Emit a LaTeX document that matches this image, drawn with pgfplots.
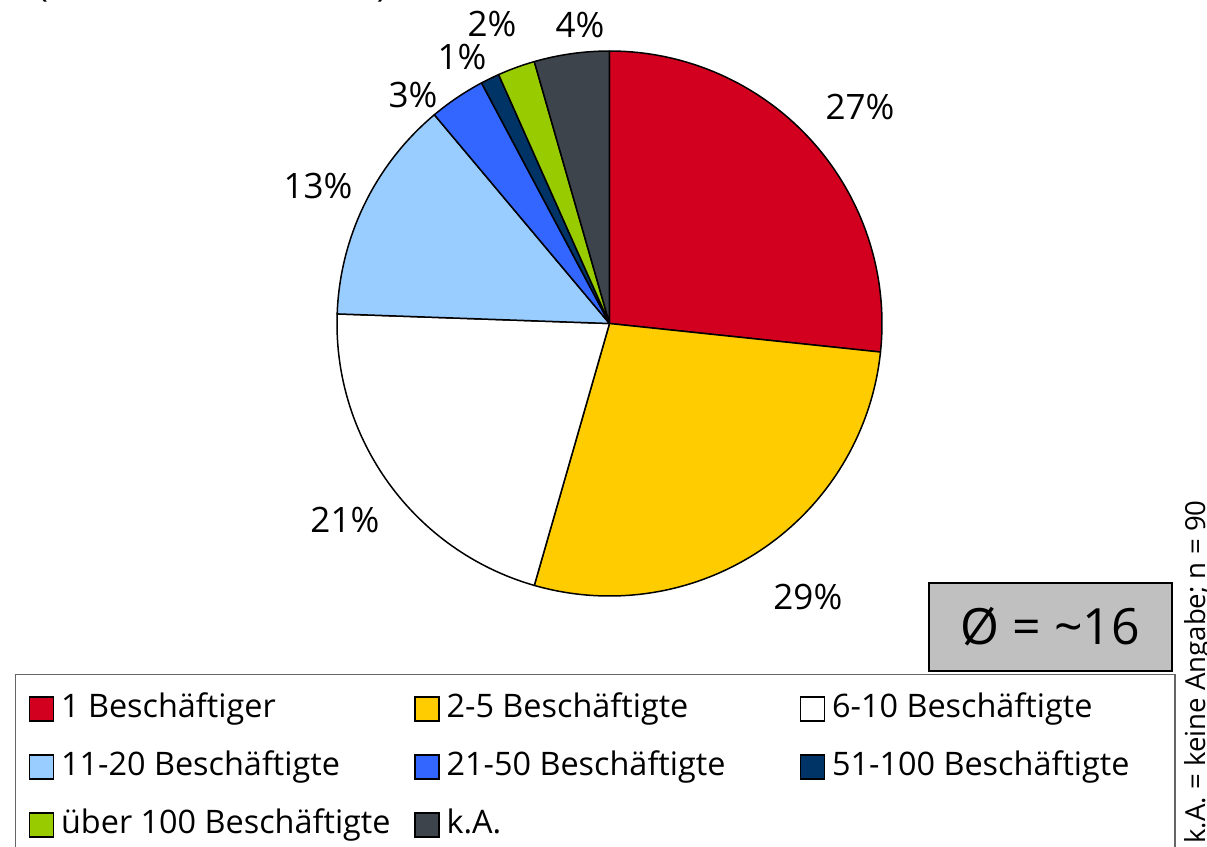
\documentclass[border=0pt]{standalone}
\usepackage{fontspec}
\setmainfont{Open Sans}
\usepackage{pgfplots}
\usepackage{pgfplotstable}
\pgfplotsset{compat=1.18}
\definecolor{cRed}{RGB}{210,0,30}
\definecolor{cYel}{RGB}{255,204,0}
\definecolor{cWhite}{RGB}{255,255,255}
\definecolor{cLBlue}{RGB}{153,204,255}
\definecolor{cBlue}{RGB}{51,102,255}
\definecolor{cNavy}{RGB}{0,51,102}
\definecolor{cGreen}{RGB}{153,204,0}
\definecolor{cGray}{RGB}{62,68,76}
\definecolor{boxgray}{RGB}{192,192,192}

% share of the n = 90 answers, in percent; lab = printed label; lx, ly = label position (pie radius = 1)
\pgfplotstableread{
pct   col    lab  lx      ly
26.67 cRed   27   0.919   0.794
27.78 cYel   29   0.728  -1.004
21.11 cWhite 21  -0.971  -0.721
13.33 cLBlue 13  -1.070   0.505
3.33  cBlue  3   -0.721   0.839
1.11  cNavy  1   -0.541   0.978
2.22  cGreen 2   -0.431   1.099
4.44  cGray  4   -0.108   1.095
}\piedata

\begin{document}
\begin{tikzpicture}
\useasboundingbox (0pt,0pt) rectangle (603.5pt,-423.5pt);
\clip (0pt,0pt) rectangle (603.5pt,-423.5pt);
\begin{axis}[
  at={(304.75pt,-161.75pt)}, anchor=center,
  x=136.25pt, y=136.25pt,
  xmin=-1.2, xmax=1.2, ymin=-1.2, ymax=1.2,
  hide axis, clip=false,
  legend columns=3,
  legend cell align=left,
  legend image code/.code={\draw[#1, line width=0.75pt] (0pt,-6pt) rectangle (12pt,6pt);},
  legend style={at={(-0.40902,-0.03593)}, anchor=north west,
    draw=black!60, line width=0.6pt, inner xsep=6.5pt, inner ysep=10pt,
    font=\fontsize{16.2}{19}\selectfont, row sep=14.5pt,
    nodes={inner sep=0pt, text height=11.5pt, text depth=3pt},
    /tikz/every odd column/.append style={column sep=3.5pt}},
]
\def\angstart{90}
\pgfplotsinvokeforeach{0,...,7}{%
  \pgfplotstablegetelem{#1}{pct}\of\piedata \let\slicepct=\pgfplotsretval
  \pgfplotstablegetelem{#1}{col}\of\piedata \let\slicecol=\pgfplotsretval
  \pgfmathsetmacro\angend{\angstart-3.6*\slicepct}%
  \edef\temp{\noexpand\filldraw[fill=\slicecol, draw=black, line width=0.75pt, line join=round] (axis cs:0,0) -- (axis cs:{cos(\angstart)},{sin(\angstart)}) arc[start angle=\angstart, end angle=\angend, radius=136.25pt] -- cycle;}%
  \temp
  \global\let\angstart=\angend
}
\addlegendimage{fill=cRed, draw=black}
\addlegendentry{\makebox[176.5pt][l]{1 Beschäftiger}}
\addlegendimage{fill=cYel, draw=black}
\addlegendentry{\makebox[176.5pt][l]{2-5 Beschäftigte}}
\addlegendimage{fill=cWhite, draw=black}
\addlegendentry{\makebox[165pt][l]{6-10 Beschäftigte}}
\addlegendimage{fill=cLBlue, draw=black}
\addlegendentry{\makebox[176.5pt][l]{11-20 Beschäftigte}}
\addlegendimage{fill=cBlue, draw=black}
\addlegendentry{\makebox[176.5pt][l]{21-50 Beschäftigte}}
\addlegendimage{fill=cNavy, draw=black}
\addlegendentry{\makebox[165pt][l]{51-100 Beschäftigte}}
\addlegendimage{fill=cGreen, draw=black}
\addlegendentry{\makebox[176.5pt][l]{über 100 Beschäftigte}}
\addlegendimage{fill=cGray, draw=black}
\addlegendentry{\makebox[176.5pt][l]{k.A.}}
\addplot[draw=none, mark=none, point meta=explicit symbolic,
  nodes near coords={\pgfplotspointmeta\%},
  every node near coord/.style={anchor=center, font=\fontsize{17.5}{21}\selectfont, text=black, inner sep=0pt}]
  table[x=lx, y=ly, meta=lab]{\piedata};
\end{axis}
\begin{scope}[x=0.5pt,y=-0.5pt]
\node[draw=black, line width=1pt, fill=boxgray, minimum width=121.5pt, minimum height=44pt, inner sep=0pt, font=\fontsize{25}{29}\selectfont] at (1050.5,626.5) {Ø = \textasciitilde16};
\node[rotate=90, anchor=base east, font=\fontsize{13.8}{16}\selectfont, inner sep=0pt] at (1205,500) {k.A. = keine Angabe; n = 90};
\node[anchor=base west, font=\fontsize{18}{22}\selectfont, inner sep=0pt] at (37,-3.5) {(};
\node[anchor=base east, font=\fontsize{18}{22}\selectfont, inner sep=0pt] at (388,-3.5) {)};
\end{scope}
\end{tikzpicture}
\end{document}
